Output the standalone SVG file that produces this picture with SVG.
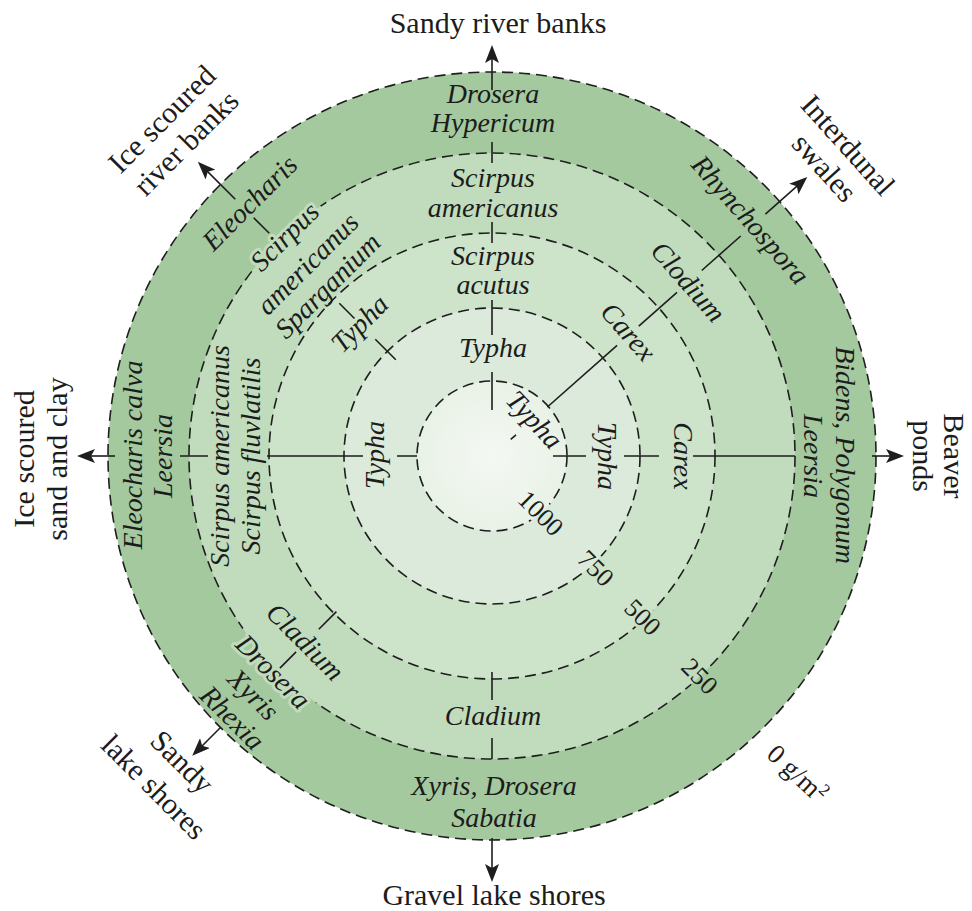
<svg xmlns="http://www.w3.org/2000/svg" width="972" height="911" viewBox="0 0 972 911">
<style>
.sp{font-family:"Liberation Serif","Times New Roman",serif;font-style:italic;font-size:28px;fill:#1c1c1c;text-anchor:middle}
.out{font-family:"Liberation Serif","Times New Roman",serif;font-size:30px;fill:#1c1c1c;text-anchor:middle}
.num{font-family:"Liberation Serif","Times New Roman",serif;font-size:26px;fill:#1c1c1c;text-anchor:middle}
.unit{font-size:27px}
.ring{fill:none;stroke:#1e1e1e;stroke-width:1.6;stroke-dasharray:11 6}
.ln{stroke:#1e1e1e;stroke-width:1.6;fill:none}
.ar{marker-end:url(#ah)}
.halo{stroke:#c1dcbd;stroke-width:6;stroke-linejoin:round;paint-order:stroke}
</style>
<defs>
<marker id="ah" markerUnits="userSpaceOnUse" viewBox="0 0 18 14" refX="8" refY="7" markerWidth="18" markerHeight="14" orient="auto">
<path d="M18,7 L0,0 L4,7 L0,14 Z" fill="#1e1e1e"/>
</marker>
<radialGradient id="g0" cx="0.5" cy="0.5" r="0.5"><stop offset="0" stop-color="#f4f8f3"/><stop offset="1" stop-color="#e9f2e7"/></radialGradient>
<mask id="gap" maskUnits="userSpaceOnUse" x="0" y="0" width="972" height="911">
<rect width="972" height="911" fill="#fff"/>
<g fill="#000">
<rect x="-29" y="-12" width="58" height="24" transform="translate(541,513) rotate(45)"/>
<rect x="-22" y="-12" width="44" height="24" transform="translate(596,568) rotate(45)"/>
<rect x="-22" y="-12" width="44" height="24" transform="translate(643,617) rotate(45)"/>
<rect x="-22" y="-12" width="44" height="24" transform="translate(700,676) rotate(45)"/>
<rect x="-47" y="-13" width="94" height="26" transform="translate(287,239) rotate(-45)"/>
<rect x="-52" y="-13" width="104" height="26" transform="translate(273,672) rotate(45)"/>
</g>
</mask>
</defs>

<g id="rings">
<circle cx="492" cy="456" r="384" fill="#a4c99f"/>
<circle cx="492" cy="456" r="303" fill="#c1dcbd"/>
<circle cx="492" cy="456" r="223" fill="#cde3ca"/>
<circle cx="492" cy="456" r="148" fill="#dbeada"/>
<circle cx="492" cy="456" r="75" fill="url(#g0)"/>
<g mask="url(#gap)">
<circle class="ring" cx="492" cy="456" r="384"/>
<circle class="ring" cx="492" cy="456" r="303"/>
<circle class="ring" cx="492" cy="456" r="223"/>
<circle class="ring" cx="492" cy="456" r="148"/>
<circle class="ring" cx="492" cy="456" r="75"/>
</g>
</g>

<g id="connectors" class="ln">
<path d="M492,142V163M492,222V243M492,300V335M492,372V410"/>
<path d="M492,672V700M492,738V759"/>
<path d="M553,456H586M624,456H659M693,456H795"/>
<path d="M180,456H208M267,456H363M397,456H417"/>
<path d="M269.3,233.3L253.7,217.7M354.5,318.5L339.3,303.3M395.8,359.8L375.3,339.3"/>
<path d="M701.7,270.5L740.7,236M638.8,326.1L677,292.3M547.4,407L617.1,345.3M510.7,439.4L516,434.8"/>
<path d="M336.4,611.6L318.8,629.2M296.1,651.9L279.9,668.1"/>
<line class="ar" x1="492" y1="90" x2="492" y2="55"/>
<line class="ar" x1="492" y1="838" x2="492" y2="872"/>
<line class="ar" x1="872" y1="456" x2="894" y2="456"/>
<line class="ar" x1="115" y1="456" x2="87" y2="456"/>
<line class="ar" x1="235.3" y1="199.3" x2="204.9" y2="168.9"/>
<line class="ar" x1="765.4" y1="214.2" x2="799.8" y2="183.7"/>
<line class="ar" x1="220.5" y1="727.5" x2="199.3" y2="748.7"/>
</g>

<g id="n-top">
<text class="sp" x="493" y="103">Drosera</text>
<text class="sp" x="493" y="132">Hypericum</text>
<text class="sp" x="493" y="187">Scirpus</text>
<text class="sp" x="493" y="217">americanus</text>
<text class="sp" x="493" y="265">Scirpus</text>
<text class="sp" x="493" y="294">acutus</text>
<text class="sp" x="493" y="357">Typha</text>
</g>
<g id="n-bottom">
<text class="sp" x="493" y="725">Cladium</text>
<text class="sp" x="494" y="795">Xyris, Drosera</text>
<text class="sp" x="494" y="827">Sabatia</text>
</g>
<g id="n-right">
<text class="sp" transform="translate(836,455) rotate(90)">Bidens, Polygonum</text>
<text class="sp" transform="translate(804,456) rotate(90)">Leersia</text>
<text class="sp" transform="translate(674,456) rotate(90)">Carex</text>
<text class="sp" transform="translate(598,456) rotate(90)">Typha</text>
</g>
<g id="n-left">
<text class="sp" transform="translate(142,455) rotate(-90)">Eleocharis calva</text>
<text class="sp" transform="translate(172,456) rotate(-90)">Leersia</text>
<text class="sp" transform="translate(229,456) rotate(-90)">Scirpus americanus</text>
<text class="sp" transform="translate(260,456) rotate(-90)">Scirpus fluvlatilis</text>
<text class="sp" transform="translate(384,455) rotate(-90)">Typha</text>
</g>
<g id="n-upper-left">
<text class="sp" transform="translate(250,203) rotate(-45)" y="9">Eleocharis</text>
<text class="sp halo" transform="translate(287,239) rotate(-45)" y="6">Scirpus</text>
<text class="sp" transform="translate(310,266) rotate(-45)" y="6">americanus</text>
<text class="sp" transform="translate(330,288) rotate(-45)" y="6">Sparganium</text>
<text class="sp" transform="translate(362,326) rotate(-45)" y="6">Typha</text>
</g>
<g id="n-upper-right">
<text class="sp" transform="translate(748,222) rotate(48.5)" y="6">Rhynchospora</text>
<text class="sp" transform="translate(688,282) rotate(48.5)" y="9">Clodium</text>
<text class="sp" transform="translate(628,332) rotate(48.5)" y="9">Carex</text>
<text class="sp" transform="translate(532,422) rotate(47)" y="6">Typha</text>
</g>
<g id="n-lower-left">
<text class="sp" transform="translate(305,642) rotate(45)" y="9">Cladium</text>
<text class="sp halo" transform="translate(273,672) rotate(45)" y="9">Drosera</text>
<text class="sp" transform="translate(251,697) rotate(45)" y="6">Xyris</text>
<text class="sp" transform="translate(232,718) rotate(45)" y="9">Rhexia</text>
</g>
<g id="n-habitats">
<text class="out" x="498" y="33">Sandy river banks</text>
<text class="out" x="494" y="905">Gravel lake shores</text>
<text class="out" transform="translate(944,456) rotate(90)">Beaver</text>
<text class="out" transform="translate(913,456) rotate(90)">ponds</text>
<text class="out" transform="translate(34,459) rotate(-90)">Ice scoured</text>
<text class="out" transform="translate(67,459) rotate(-90)">sand and clay</text>
<text class="out" transform="translate(162,119) rotate(-45)" y="10">Ice scoured</text>
<text class="out" transform="translate(186,143) rotate(-45)" y="10">river banks</text>
<text class="out" transform="translate(848,145) rotate(48)" y="10">Interdunal</text>
<text class="out" transform="translate(823,169) rotate(48)" y="8">swales</text>
<text class="out" transform="translate(180,764) rotate(45)" y="7">Sandy</text>
<text class="out" transform="translate(154,787) rotate(45)" y="10">lake shores</text>
</g>
<g id="n-scale">
<text class="num" transform="translate(541,513) rotate(45)" y="9">1000</text>
<text class="num" transform="translate(596,568) rotate(45)" y="9">750</text>
<text class="num" transform="translate(643,617) rotate(45)" y="9">500</text>
<text class="num" transform="translate(700,676) rotate(45)" y="9">250</text>
<text class="num unit" transform="translate(796,775) rotate(43)" y="7">0 g/m<tspan dy="-10" font-size="17">2</tspan></text>
</g>
</svg>
